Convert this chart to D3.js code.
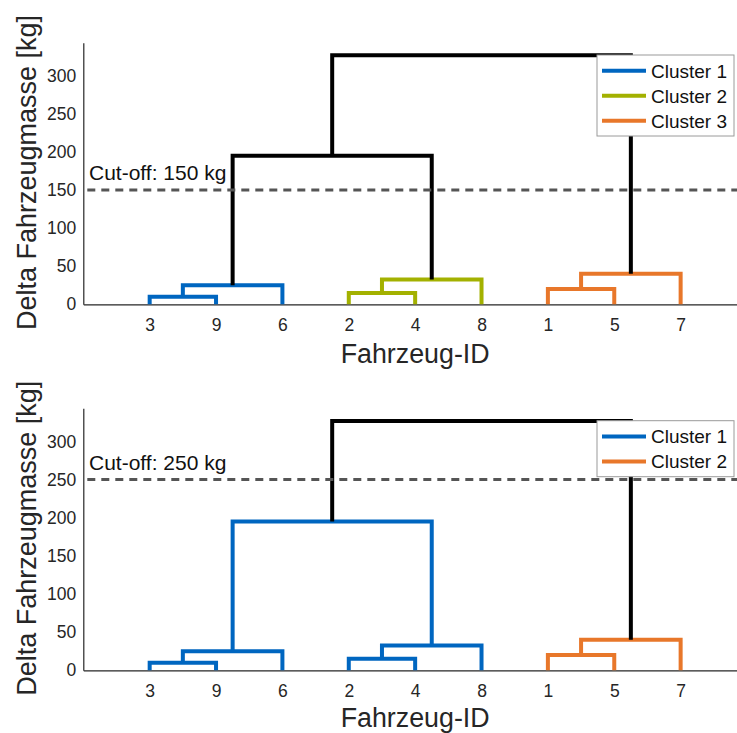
<!DOCTYPE html>
<html><head><meta charset="utf-8">
<script src="https://cdn.jsdelivr.net/npm/d3@7"></script>
<style>
html,body{margin:0;padding:0;background:#fff;}
svg{display:block;font-family:"Liberation Sans",Arial,Helvetica,sans-serif;}
</style></head>
<body>
<script>
// ---- data ----
const leaves = ["3","9","6","2","4","8","1","5","7"];
const yTicks = [0,50,100,150,200,250,300];
// merges: node ids < 9 are leaf positions, >= 9 are previous merges
const mergeLeft   = [0, 9, 3, 11, 6, 13, 10, 15];
const mergeRight  = [1, 2, 4, 5, 7, 8, 12, 14];
const mergeHeight = [10, 25, 15, 32.5, 20, 40, 195, 327];
const clusterTop    = [1, 1, 2, 2, 3, 3, 0, 0];
const clusterBottom = [1, 1, 1, 1, 2, 2, 1, 0];
const cutoffs = [150, 250];
const legendTop = ["Cluster 1","Cluster 2","Cluster 3"];
const legendBottom = ["Cluster 1","Cluster 2"];
const colorsTop = ["#000000","#0066c0","#a3b100","#e8772a"];
const colorsBottom = ["#000000","#0066c0","#e8772a"];

const W = 737, H = 733;
const svg = d3.select("body").append("svg").attr("width", W).attr("height", H);

const panels = [
  {y0: 304.3, y1: 42.7, clusters: clusterTop, colors: colorsTop, cut: cutoffs[0], legend: legendTop, legTop: 55, xlab: 59},
  {y0: 670.3, y1: 408.3, clusters: clusterBottom, colors: colorsBottom, cut: cutoffs[1], legend: legendBottom, legTop: 420.7, xlab: 56.5}
];

const x = d3.scaleLinear().domain([0, 10]).range([83.3, 747]);
const textCol = "#262626";

panels.forEach(p => {
  const y = d3.scaleLinear().domain([0, 343.5]).range([p.y0, p.y1]);
  const g = svg.append("g");

  // node positions
  const nodeX = leaves.map((d, i) => i + 1);
  const nodeH = leaves.map(() => 0);
  mergeLeft.forEach((l, i) => {
    const r = mergeRight[i];
    nodeX.push((nodeX[l] + nodeX[r]) / 2);
    nodeH.push(mergeHeight[i]);
  });

  // axes lines
  const yAxis = d3.axisLeft(y).tickValues(yTicks).tickSize(0).tickPadding(7);
  const ga = g.append("g").attr("transform", `translate(${x(0)},0)`).call(yAxis);
  ga.select(".domain").attr("stroke", textCol).attr("stroke-width", 1.2);
  ga.selectAll("text").attr("font-size", "17.5px").attr("fill", textCol)
    .attr("font-family", '"Liberation Sans",Arial,sans-serif');

  const xAxis = d3.axisBottom(x).tickValues(leaves.map((d, i) => i + 1))
    .tickFormat((d, i) => leaves[i]).tickSize(0).tickPadding(14);
  const gx = g.append("g").attr("transform", `translate(0,${p.y0})`).call(xAxis);
  gx.select(".domain").attr("stroke", textCol).attr("stroke-width", 1.2);
  gx.selectAll("text").attr("font-size", "17.5px").attr("fill", textCol)
    .attr("font-family", '"Liberation Sans",Arial,sans-serif');

  // links
  mergeLeft.forEach((l, i) => {
    const r = mergeRight[i];
    const path = d3.path();
    path.moveTo(x(nodeX[l]), y(nodeH[l]));
    path.lineTo(x(nodeX[l]), y(mergeHeight[i]));
    path.lineTo(x(nodeX[r]), y(mergeHeight[i]));
    path.lineTo(x(nodeX[r]), y(nodeH[r]));
    g.append("path").attr("d", path.toString())
      .attr("fill", "none")
      .attr("stroke", p.colors[p.clusters[i]])
      .attr("stroke-width", 4)
      .attr("stroke-linejoin", "miter");
  });

  // cut-off line
  g.append("line")
    .attr("x1", x(0)).attr("x2", x(10))
    .attr("y1", y(p.cut)).attr("y2", y(p.cut))
    .attr("stroke", "#555555").attr("stroke-width", 3)
    .attr("stroke-dasharray", "8,6").attr("stroke-dashoffset", -4);
  g.append("text")
    .attr("x", 89).attr("y", y(p.cut) - 10)
    .attr("font-size", "21px").attr("fill", "#111")
    .text(`Cut-off: ${p.cut} kg`);

  // axis labels
  g.append("text")
    .attr("x", x(5)).attr("y", p.y0 + p.xlab)
    .attr("text-anchor", "middle").attr("font-size", "26.8px").attr("fill", textCol)
    .text("Fahrzeug-ID");
  g.append("text")
    .attr("transform", `translate(36,${(p.y0 + p.y1) / 2 - 1}) rotate(-90)`)
    .attr("text-anchor", "middle").attr("font-size", "27px").attr("fill", textCol)
    .text("Delta Fahrzeugmasse [kg]");

  // legend
  const lx = 597, lw = 137, rowH = 25;
  const lh = p.legend.length * rowH + 6;
  const lg = g.append("g");
  lg.append("rect").attr("x", lx).attr("y", p.legTop).attr("width", lw).attr("height", lh)
    .attr("fill", "#fff").attr("stroke", "#9a9a9a").attr("stroke-width", 1);
  p.legend.forEach((name, i) => {
    const cy = p.legTop + 15.7 + i * rowH;
    lg.append("line").attr("x1", 602).attr("x2", 646).attr("y1", cy).attr("y2", cy)
      .attr("stroke", p.colors[i + 1]).attr("stroke-width", 4);
    lg.append("text").attr("x", 651).attr("y", cy).attr("dy", "0.36em")
      .attr("font-size", "19px").attr("fill", "#111").text(name);
  });
});
</script>
</body></html>
